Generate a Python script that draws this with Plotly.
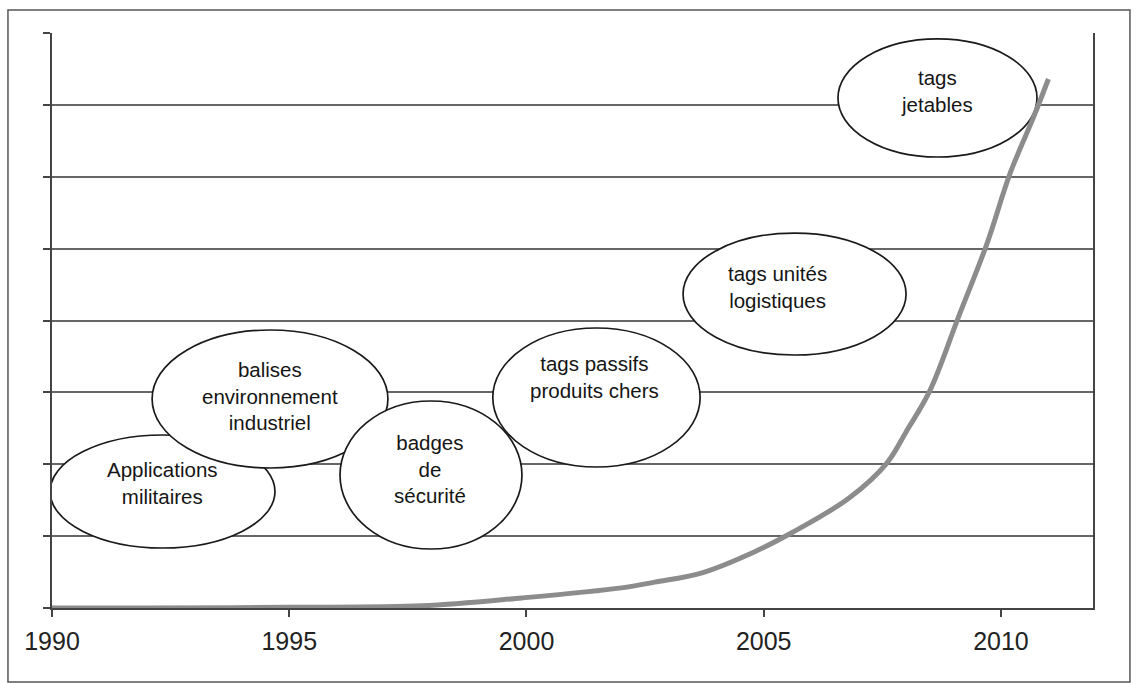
import plotly.graph_objects as go

# ---- data ----
years = [1990, 1992, 1995, 1997.8, 1999.9, 2002.0, 2002.7, 2003.7, 2004.8, 2005.6,
         2006.8, 2007.6, 2008.0, 2008.5, 2009.1, 2009.7, 2010.2, 2010.7, 2011.0]
adoption = [0.0, 0.0, 0.01, 0.03, 0.14, 0.28, 0.36, 0.49, 0.78, 1.05,
            1.53, 2.02, 2.45, 3.02, 4.04, 5.06, 6.06, 6.85, 7.36]

x_ticks = [1990, 1995, 2000, 2005, 2010]
y_grid = [0, 1, 2, 3, 4, 5, 6, 7, 8]

bubble_labels = [
    "Applications<br>militaires",
    "balises<br>environnement<br>industriel",
    "badges<br>de<br>sécurité",
    "tags passifs<br>produits chers",
    "tags unités<br>logistiques",
    "tags<br>jetables",
]
# ellipse extents (x0, x1, y0, y1) in data units
bubble_boxes = [
    (1989.96, 1994.70, 0.835, 2.407),
    (1992.11, 1997.08, 1.948, 3.868),
    (1996.07, 1999.905, 0.821, 2.880),
    (1999.29, 2003.66, 1.962, 3.896),
    (2003.30, 2008.00, 3.520, 5.217),
    (2006.565, 2010.76, 6.275, 7.917),
]
# label centres
bubble_text_pos = [
    (1992.32, 1.740),
    (1994.59, 2.950),
    (1997.97, 1.935),
    (2001.44, 3.215),
    (2005.30, 4.465),
    (2008.65, 7.195),
]

fig = go.Figure()
fig.add_trace(go.Scatter(
    x=years, y=adoption, mode="lines",
    line=dict(color="#8c8c8c", width=5, shape="spline", smoothing=1.0),
    hoverinfo="skip", showlegend=False,
))

shapes = []
for (x0, x1, y0, y1) in bubble_boxes:
    shapes.append(dict(type="circle", xref="x", yref="y", x0=x0, x1=x1, y0=y0, y1=y1,
                       line=dict(color="#1a1a1a", width=1.7), fillcolor="white",
                       layer="between"))
# outer frame
shapes.append(dict(type="rect", xref="paper", yref="paper",
                   x0=-0.0423, x1=1.0355, y0=-0.1287, y1=1.040,
                   line=dict(color="#555555", width=1.5), fillcolor="rgba(0,0,0,0)",
                   layer="above"))

annotations = []
for txt, (tx, ty) in zip(bubble_labels, bubble_text_pos):
    annotations.append(dict(x=tx, y=ty, xref="x", yref="y", text=txt, showarrow=False,
                            xanchor="center", yanchor="middle", align="center",
                            font=dict(family="Arial, Liberation Sans", size=20.5, color="#151515")))

fig.update_layout(
    width=1138, height=684,
    margin=dict(l=52, r=45, t=33, b=76),
    paper_bgcolor="white", plot_bgcolor="white",
    shapes=shapes, annotations=annotations,
    showlegend=False,
    xaxis=dict(range=[1990, 2011.94], tickvals=x_ticks, ticktext=[str(v) for v in x_ticks],
               showgrid=False, zeroline=False, showline=True, linecolor="#444444", linewidth=2,
               ticks="outside", ticklen=7, tickwidth=1.5, tickcolor="#444444",
               ticklabelstandoff=3,
               tickfont=dict(family="Arial, Liberation Sans", size=25, color="#222222"),
               mirror=False),
    yaxis=dict(range=[0, 8], tickvals=y_grid, showticklabels=False,
               showgrid=True, gridcolor="#666666", gridwidth=1.5, zeroline=False,
               showline=True, linecolor="#444444", linewidth=2, mirror=True,
               ticks="outside", ticklen=7, tickwidth=1.5, tickcolor="#444444"),
)

fig.write_html("out.html")
